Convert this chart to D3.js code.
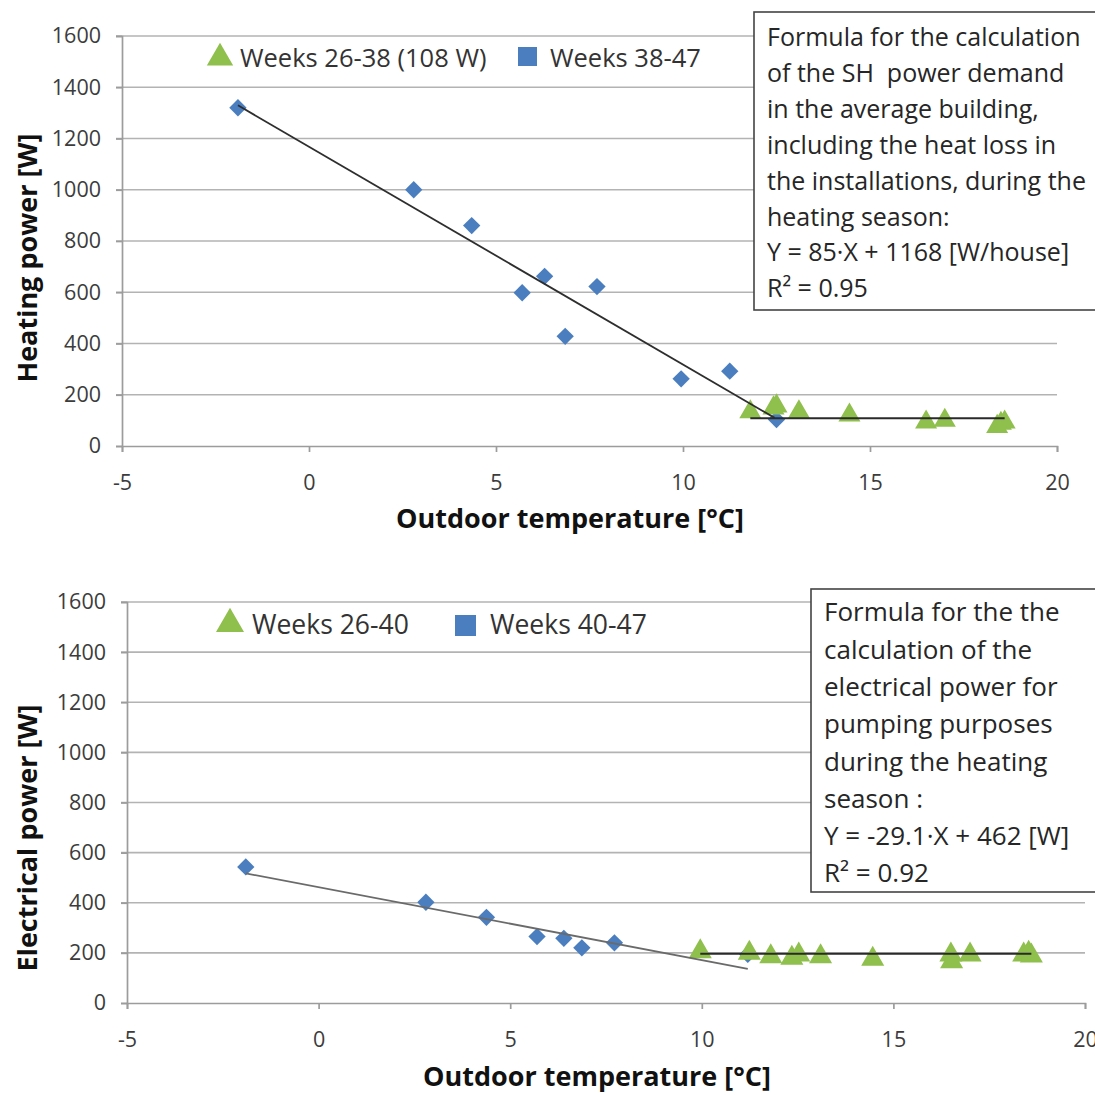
<!DOCTYPE html>
<html><head><meta charset="utf-8">
<script src="https://cdn.jsdelivr.net/npm/d3@7"></script>
<style>
html,body{margin:0;padding:0;background:#fff;}
text{font-family:"Open Sans",Lato,sans-serif;white-space:pre;}
</style></head>
<body><svg id="c" width="1095" height="1095"></svg>
<script>
// ---------- data ----------
const xTicks = [-5, 0, 5, 10, 15, 20];
const yTicks = [0, 200, 400, 600, 800, 1000, 1200, 1400, 1600];

// Top chart: heating power
const heatLateX = [-1.9, 2.8, 4.35, 5.7, 6.3, 6.85, 7.7, 9.95, 11.25, 12.5];
const heatLateY = [1320, 1000, 860, 598, 662, 428, 622, 262, 292, 103];
const heatEarlyX = [11.8, 12.42, 12.5, 13.1, 14.45, 16.5, 17.0, 18.4, 18.5, 18.6];
const heatEarlyY = [133, 148, 156, 133, 120, 93, 100, 76, 88, 93];
const heatFit = [-85, 1168];          // slope, intercept
const heatFitRange = [-1.9, 12.45];
const heatFlat = 108;
const heatFlatRange = [11.8, 18.6];
const heatLegend = ["Weeks 26-38 (108 W)", "Weeks 38-47"];
const heatNote = ["Formula for the calculation", "of the SH  power demand", "in the average building,",
  "including the heat loss in", "the installations, during the", "heating season:",
  "Y = 85·X + 1168 [W/house]", "R² = 0.95"];

// Bottom chart: electrical power
const elecLateX = [-1.9, 2.8, 4.38, 5.7, 6.4, 6.87, 7.72, 11.2];
const elecLateY = [543, 402, 342, 265, 258, 220, 240, 194];
const elecEarlyX = [9.96, 11.24, 11.8, 12.35, 12.53, 13.1, 14.46, 16.5, 16.52, 17.0, 18.4, 18.53, 18.6];
const elecEarlyY = [205, 199, 185, 179, 192, 185, 175, 192, 165, 192, 192, 199, 188];
const elecFit = [-29.1, 462];
const elecFitRange = [-1.9, 11.2];
const elecFlat = 197;
const elecFlatRange = [9.96, 18.6];
const elecLegend = ["Weeks 26-40", "Weeks 40-47"];
const elecNote = ["Formula for the the", "calculation of the", "electrical power for",
  "pumping purposes", "during the heating", "season :", "Y = -29.1·X + 462 [W]", "R² = 0.92"];

// ---------- style ----------
const BLUE = "#4a7ebf", GREEN = "#8fbf4c", GRID = "#b3b3b3", AXIS = "#9c9c9c", TXT = "#3c3c3c";
const svg = d3.select("#c");

function chart(cfg) {
  const x = d3.scaleLinear().domain([-5, 20]).range(cfg.xr);
  const y = d3.scaleLinear().domain([0, 1600]).range(cfg.yr);
  const g = svg.append("g");
  // gridlines
  g.selectAll(".grid").data(yTicks.filter(d => d > 0)).join("line")
    .attr("x1", x(-5) - 6).attr("x2", x(20)).attr("y1", d => y(d)).attr("y2", d => y(d))
    .attr("stroke", GRID).attr("stroke-width", 1.7);
  // y axis
  const ya = g.append("g").attr("transform", `translate(${x(-5)},0)`)
    .call(d3.axisLeft(y).tickValues(yTicks).tickSize(6).tickPadding(15).tickFormat(d3.format("d")));
  ya.select(".domain").attr("stroke", AXIS).attr("stroke-width", 1.7);
  ya.selectAll(".tick line").attr("stroke", AXIS).attr("stroke-width", 1.7);
  ya.selectAll("text").attr("fill", TXT).style("font-size", cfg.tickFs + "px");
  // x axis
  const xa = g.append("g").attr("transform", `translate(0,${y(0)})`)
    .call(d3.axisBottom(x).tickValues(xTicks).tickSize(6).tickPadding(23).tickFormat(d3.format("d")));
  xa.select(".domain").attr("stroke", AXIS).attr("stroke-width", 1.7);
  xa.selectAll(".tick line").attr("stroke", AXIS).attr("stroke-width", 1.7);
  xa.selectAll("text").attr("fill", TXT).style("font-size", cfg.tickFs + "px").text(d => d < 0 ? "-" + Math.abs(d) : d);

  // markers
  const diamond = d3.symbol().type(d3.symbolSquare).size(150);
  const tri = d3.symbol().type(d3.symbolTriangle).size(cfg.triSize);
  g.selectAll(".dia").data(d3.zip(cfg.lateX, cfg.lateY)).join("path")
    .attr("d", diamond).attr("fill", BLUE)
    .attr("transform", d => `translate(${x(d[0])},${y(d[1])}) rotate(45)`);
  g.selectAll(".tri").data(d3.zip(cfg.earlyX, cfg.earlyY)).join("path")
    .attr("d", tri).attr("fill", GREEN)
    .attr("transform", d => `translate(${x(d[0])},${y(d[1])})`);
  // trend lines
  const line = d3.line().x(d => x(d[0])).y(d => y(d[1]));
  const fitPts = cfg.fitRange.map(v => [v, cfg.fit[0] * v + cfg.fit[1]]);
  g.append("path").attr("d", line(fitPts)).attr("fill", "none")
    .attr("stroke", cfg.fitColor).attr("stroke-width", 1.8);
  const flatPts = cfg.flatRange.map(v => [v, cfg.flat]);
  g.append("path").attr("d", line(flatPts)).attr("fill", "none")
    .attr("stroke", "#2a2a2a").attr("stroke-width", 2);

  // legend
  const L = cfg.legend;
  g.append("path").attr("d", d3.symbol().type(d3.symbolTriangle).size(cfg.legTri)())
    .attr("fill", GREEN).attr("transform", `translate(${L.tri[0]},${L.tri[1]})`);
  g.append("text").attr("x", L.t1).attr("y", L.tri[1]).attr("dy", "0.36em")
    .attr("fill", "#333").style("font-size", L.fs + "px").text(cfg.legendText[0]);
  g.append("rect").attr("x", L.sq[0]).attr("y", L.sq[1]).attr("width", L.sq[2]).attr("height", L.sq[2])
    .attr("fill", BLUE);
  g.append("text").attr("x", L.t2).attr("y", L.tri[1]).attr("dy", "0.36em")
    .attr("fill", "#333").style("font-size", L.fs + "px").text(cfg.legendText[1]);

  // note box
  const B = cfg.box;
  g.append("rect").attr("x", B.x).attr("y", B.y).attr("width", B.w).attr("height", B.h)
    .attr("fill", "#fff").attr("stroke", "#444").attr("stroke-width", 1.6);
  g.selectAll(".note").data(cfg.note).join("text")
    .attr("x", B.x + B.pad).attr("y", (d, i) => B.y0 + i * B.lh).attr("dy", "0.36em")
    .attr("fill", "#262626").style("font-size", B.fs + "px").text(d => d);

  // axis titles
  g.append("text").attr("x", cfg.xt[0]).attr("y", cfg.xt[1]).attr("dy", "0.36em").attr("text-anchor", "middle")
    .style("font-weight", "bold").style("font-size", cfg.titleFs + "px").attr("fill", "#111").text("Outdoor temperature [°C]");
  g.append("text").attr("transform", `translate(${cfg.yt[0]},${cfg.yt[1]}) rotate(-90)`).attr("dy", "0.36em")
    .attr("text-anchor", "middle").style("font-weight", "bold").style("font-size", cfg.titleFs + "px")
    .attr("fill", "#111").text(cfg.yTitle);
}

chart({
  xr: [122, 1057], yr: [446, 36], tickFs: 21.5, triSize: 210, legTri: 300,
  lateX: heatLateX, lateY: heatLateY, earlyX: heatEarlyX, earlyY: heatEarlyY,
  fit: heatFit, fitRange: heatFitRange, fitColor: "#2e2e2e", flat: heatFlat, flatRange: heatFlatRange,
  legend: {tri: [220, 58], t1: 240, sq: [518, 47, 19], t2: 550, fs: 25.5}, legendText: heatLegend,
  box: {x: 754, y: 12, w: 360, h: 298, pad: 13, y0: 37, lh: 35.9, fs: 25}, note: heatNote,
  xt: [570, 518], yt: [27, 258], titleFs: 27, yTitle: "Heating power [W]"
});
chart({
  xr: [127, 1085], yr: [1003, 602], tickFs: 21.5, triSize: 230, legTri: 340,
  lateX: elecLateX, lateY: elecLateY, earlyX: elecEarlyX, earlyY: elecEarlyY,
  fit: elecFit, fitRange: elecFitRange, fitColor: "#6a6a6a", flat: elecFlat, flatRange: elecFlatRange,
  legend: {tri: [230, 624], t1: 252, sq: [455, 615, 21], t2: 490, fs: 26.5}, legendText: elecLegend,
  box: {x: 811, y: 589, w: 300, h: 303, pad: 13, y0: 612, lh: 37.3, fs: 26}, note: elecNote,
  xt: [597, 1076], yt: [27, 838], titleFs: 27, yTitle: "Electrical power [W]"
});
</script></body></html>
